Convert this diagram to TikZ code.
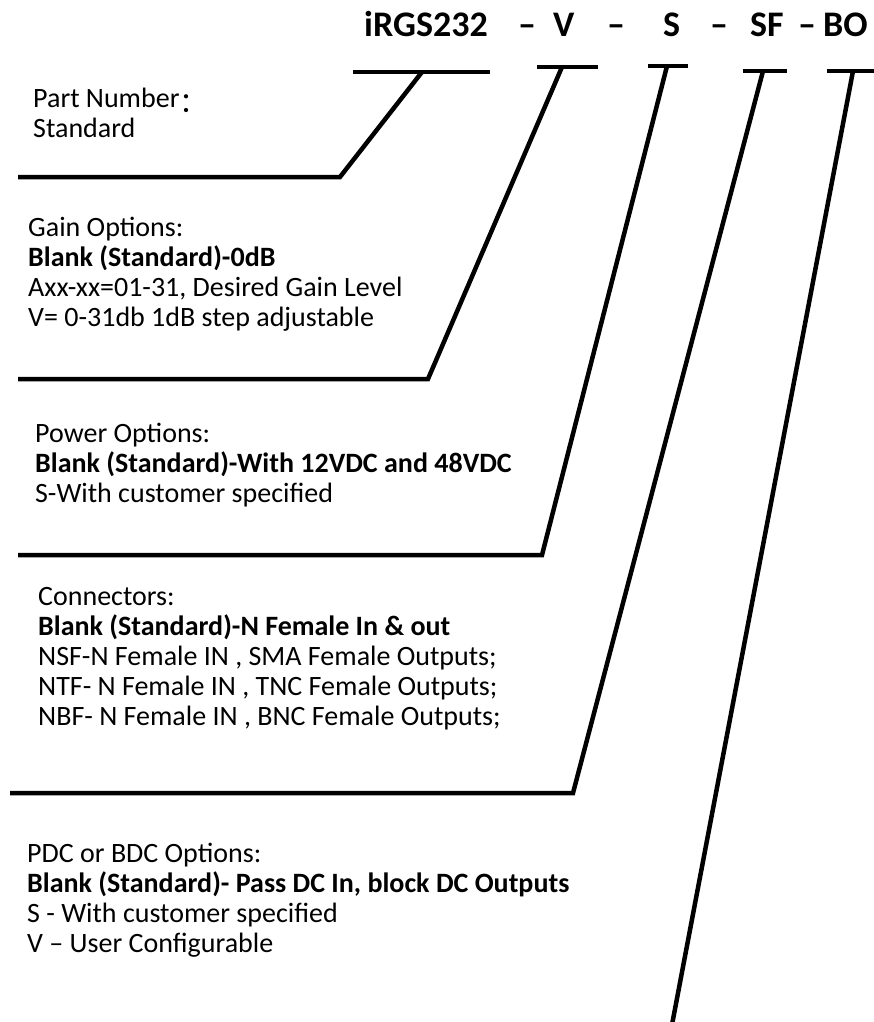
\documentclass[tikz,border=0pt]{standalone}
\usepackage{fontspec}
\setmainfont{Carlito}
\newfontfamily\cjk{Noto Sans CJK SC}
\newcommand{\blk}[1]{\vtop{\baselineskip=30pt\lineskiplimit=-20pt\halign{##\hfil\cr #1\crcr}}}
\tikzset{
  lead/.style={line width=4.5pt, line join=miter, black},
  body/.style={anchor=base west, inner sep=0pt, font=\fontsize{28}{30}\selectfont},
  ttl/.style={anchor=base west, inner sep=0pt, font=\fontsize{36}{40}\selectfont\bfseries},
}
\begin{document}
\begin{tikzpicture}[x=1pt,y=-1pt]
\useasboundingbox (0,0) rectangle (874,1022);
% title
\node[ttl] (t1) at (364,37) {iRGS232};
\node[ttl] (d1) at (518,37) {–};
\node[ttl] (t2) at (553,37) {V};
\node[ttl] (d2) at (607,37) {–};
\node[ttl] (t3) at (663,37) {S};
\node[ttl] (d3) at (710,37) {–};
\node[ttl] (t4) at (750,37) {SF};
\node[ttl] (d4) at (798,37) {–};
\node[ttl] (t5) at (823,37) {BO};
% coordinates
\coordinate (b1l) at (353,72); \coordinate (b1r) at (490,72); \coordinate (b1t) at (422,72);
\coordinate (b2l) at (537,67); \coordinate (b2r) at (598,67); \coordinate (b2t) at (562,67);
\coordinate (b3l) at (648,66); \coordinate (b3r) at (688,66); \coordinate (b3t) at (667,66);
\coordinate (b4l) at (743,71); \coordinate (b4r) at (787,71); \coordinate (b4t) at (763,71);
\coordinate (b5l) at (827,71); \coordinate (b5r) at (880,71); \coordinate (b5t) at (853,71);
\coordinate (p1a) at (18,177); \coordinate (p1b) at (340,177);
\coordinate (p2a) at (18,379); \coordinate (p2b) at (428,379);
\coordinate (p3a) at (18,555); \coordinate (p3b) at (542,555);
\coordinate (p4a) at (10,793); \coordinate (p4b) at (573,793);
\coordinate (p5b) at (671,1030);
% bars
\draw[lead] (b1l) -- (b1r);
\draw[lead] (b2l) -- (b2r);
\draw[lead] (b3l) -- (b3r);
\draw[lead] (b4l) -- (b4r);
\draw[lead] (b5l) -- (b5r);
% leaders
\draw[lead] (p1a) -- (p1b) -- (b1t);
\draw[lead] (p2a) -- (p2b) -- (b2t);
\draw[lead] (p3a) -- (p3b) -- (b3t);
\draw[lead] (p4a) -- (p4b) -- (b4t);
\draw[lead] (b5t) -- (p5b);
% texts
\node[body] (part) at (33,108) {\blk{Part Number\raisebox{-5pt}{\cjk ：}\cr Standard}};
\node[body] (gain) at (28,236) {\blk{Gain Options:\cr \textbf{Blank (Standard)-0dB}\cr Axx-xx=01-31, Desired Gain Level\cr V= 0-31db 1dB step adjustable}};
\node[body] (power) at (35,442) {\blk{Power Options:\cr \textbf{Blank (Standard)-With 12VDC and 48VDC}\cr S-With customer specified}};
\node[body] (conn) at (38,605) {\blk{Connectors:\cr \textbf{Blank (Standard)-N Female In \& out}\cr NSF-N Female IN , SMA Female Outputs;\cr NTF- N Female IN , TNC Female Outputs;\cr NBF- N Female IN , BNC Female Outputs;}};
\node[body] (pdc) at (27,862) {\blk{PDC or BDC Options:\cr \textbf{Blank (Standard)- Pass DC In, block DC Outputs}\cr S - With customer specified\cr V – User Configurable}};
\end{tikzpicture}
\end{document}
